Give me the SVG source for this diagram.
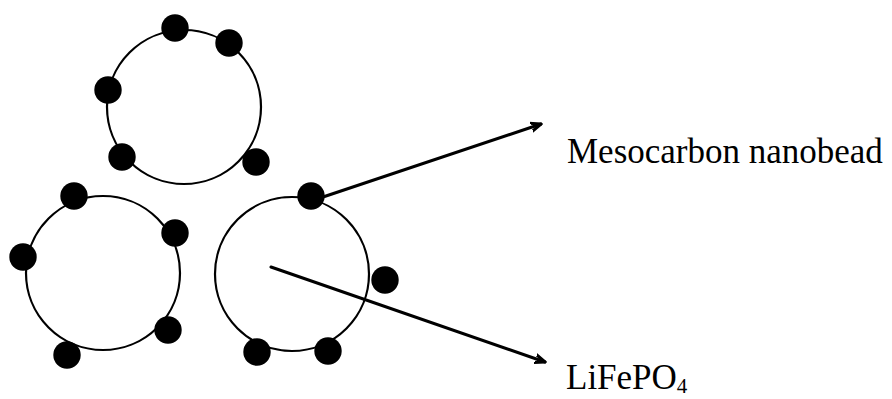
<svg xmlns="http://www.w3.org/2000/svg" width="892" height="399" viewBox="0 0 892 399">
<defs>
<style>
.ring{fill:none;stroke:#000;stroke-width:2.2}
.dot{fill:#000}
.conn{stroke:#000;stroke-width:3;fill:none;stroke-linecap:round}
.lbl{font-family:"Liberation Serif","Times New Roman",serif;font-size:35px;fill:#000}
</style>
<marker id="arr" markerWidth="14" markerHeight="14" refX="10" refY="7" orient="auto" markerUnits="userSpaceOnUse" viewBox="0 0 14 14">
<path d="M-10,-1 L10,7 M-10,15 L10,7" stroke="#000" stroke-width="3" fill="none" stroke-linecap="round"/>
</marker>
</defs>
<rect width="892" height="399" fill="#fff"/>
<g id="particle-top">
<circle class="ring" cx="184" cy="107" r="77"/>
<circle class="dot" cx="175" cy="28" r="13.7"/>
<circle class="dot" cx="229" cy="43" r="13.7"/>
<circle class="dot" cx="108" cy="90" r="13.7"/>
<circle class="dot" cx="122" cy="157" r="13.7"/>
<circle class="dot" cx="256" cy="162" r="13.7"/>
</g>
<g id="particle-left">
<circle class="ring" cx="103" cy="273" r="77"/>
<circle class="dot" cx="74" cy="196" r="13.7"/>
<circle class="dot" cx="175" cy="233" r="13.7"/>
<circle class="dot" cx="23" cy="257" r="13.7"/>
<circle class="dot" cx="168" cy="330" r="13.7"/>
<circle class="dot" cx="67" cy="355" r="13.7"/>
</g>
<g id="particle-right">
<circle class="ring" cx="292" cy="274" r="77"/>
<circle class="dot" cx="311" cy="196" r="13.7"/>
<circle class="dot" cx="385" cy="280" r="13.7"/>
<circle class="dot" cx="257" cy="352" r="13.7"/>
<circle class="dot" cx="328" cy="351" r="13.7"/>
</g>
<g id="connectors">
<line class="conn" x1="323" y1="197" x2="541" y2="124" marker-end="url(#arr)"/>
<line class="conn" x1="271" y1="267" x2="545" y2="362" marker-end="url(#arr)"/>
</g>
<g id="label-mcnb">
<text class="lbl" x="567" y="163">Mesocarbon nanobead</text>
</g>
<g id="label-lfp">
<text class="lbl" x="566" y="389" font-size="34">LiFePO<tspan font-size="21" dy="4">4</tspan></text>
</g>
</svg>
